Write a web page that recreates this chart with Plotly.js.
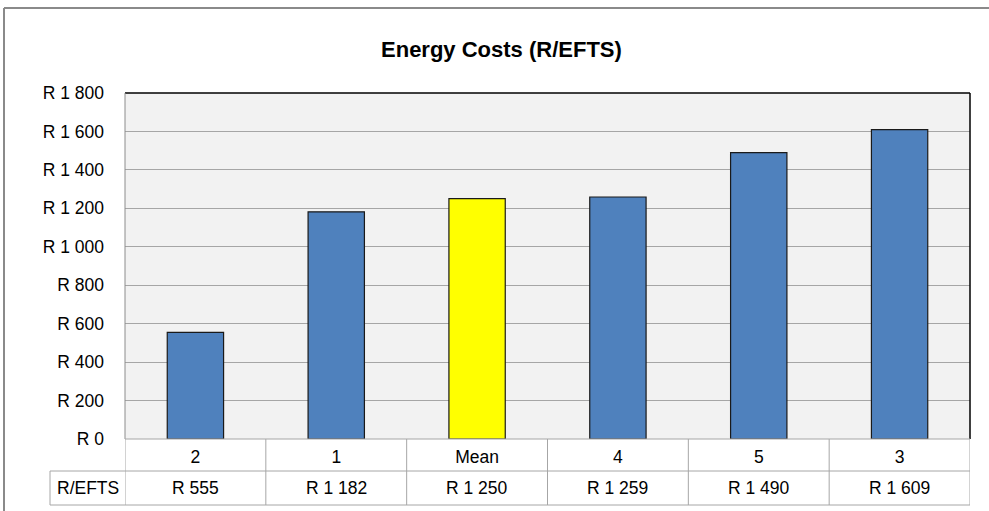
<!DOCTYPE html>
<html>
<head>
<meta charset="utf-8">
<script src="https://cdn.plot.ly/plotly-3.0.1.min.js"></script>
<style>
html,body{margin:0;padding:0;background:#fff;}
#chart{width:989px;height:511px;}
</style>
</head>
<body>
<div id="chart"></div>
<script>
// ---- data ----
var categories = ["2", "1", "Mean", "4", "5", "3"];
var values = [555, 1182, 1250, 1259, 1490, 1609];
var barColors = ["#4f81bd", "#4f81bd", "#ffff00", "#4f81bd", "#4f81bd", "#4f81bd"];
var yTicks = [0, 200, 400, 600, 800, 1000, 1200, 1400, 1600, 1800];
var rowLabel = "R/EFTS";
var chartTitle = "Energy Costs (R/EFTS)";

function fmtR(v) {
  var s = String(Math.round(v));
  var out = "";
  while (s.length > 3) { out = " " + s.slice(-3) + out; s = s.slice(0, -3); }
  return "R " + s + out;
}

var FONT = "'Liberation Sans Narrow', 'Arial Narrow', 'Liberation Sans', Arial, sans-serif";
var GRID = "#a6a6a6";
var TBL = "#a6a6a6";
var FS = 17.5;

var trace = {
  type: "bar",
  x: categories,
  y: values,
  width: 0.4,
  marker: { color: barColors, line: { color: "#1a1a1a", width: 1.2 } },
  hoverinfo: "x+y"
};

var shapes = [];
// plot frame: top & right black, left gray
shapes.push({type:"line", xref:"paper", yref:"paper", x0:0, x1:1, y0:1, y1:1, line:{color:"#000", width:1.5}, layer:"above"});
shapes.push({type:"line", xref:"paper", yref:"paper", x0:1, x1:1, y0:0, y1:1, line:{color:"#000", width:1.5}, layer:"above"});
shapes.push({type:"line", xref:"paper", yref:"paper", x0:0, x1:0, y0:0, y1:1, line:{color:"#8c8c8c", width:1}, layer:"above"});
// table horizontal lines
shapes.push({type:"line", xref:"paper", yref:"paper", x0:0, x1:1, y0:0, y1:0, line:{color:TBL, width:1}, layer:"above"});
[-32, -66].forEach(function(py){
  shapes.push({type:"line", xref:"paper", xsizemode:"pixel", xanchor:0, x0:-75, x1:0,
    yref:"paper", ysizemode:"pixel", yanchor:0, y0:py, y1:py, line:{color:TBL, width:1}});
  shapes.push({type:"line", xref:"paper", yref:"paper", ysizemode:"pixel", yanchor:0,
    x0:0, x1:1, y0:py, y1:py, line:{color:TBL, width:1}});
});
// table vertical lines
for (var i = 0; i <= categories.length; i++) {
  shapes.push({type:"line", xref:"x", x0:i-0.5, x1:i-0.5, yref:"paper", ysizemode:"pixel", yanchor:0,
    y0:0, y1:-66, line:{color:TBL, width:1}});
}
shapes.push({type:"line", xref:"paper", xsizemode:"pixel", xanchor:0, x0:-75, x1:-75,
  yref:"paper", ysizemode:"pixel", yanchor:0, y0:-32, y1:-66, line:{color:TBL, width:1}});
// outer chart frame (partially visible)
shapes.push({type:"line", xref:"paper", xsizemode:"pixel", xanchor:0, x0:-121, x1:900,
  yref:"paper", ysizemode:"pixel", yanchor:1, y0:85, y1:85, line:{color:"#8a8a8a", width:2}});
shapes.push({type:"line", xref:"paper", xsizemode:"pixel", xanchor:0, x0:-121, x1:-121,
  yref:"paper", ysizemode:"pixel", yanchor:1, y0:85, y1:-500, line:{color:"#8a8a8a", width:2}});

var annotations = [];
values.forEach(function(v, i){
  annotations.push({xref:"x", x:i, yref:"paper", y:0, yshift:-49, yanchor:"middle",
    xanchor:"center", showarrow:false, text:fmtR(v), font:{family:FONT, size:FS, color:"#000"}});
});
annotations.push({xref:"paper", x:0, xshift:-37.5, yref:"paper", y:0, yshift:-49, yanchor:"middle",
  xanchor:"center", showarrow:false, text:rowLabel, font:{family:FONT, size:FS, color:"#000"}});

var layout = {
  width: 989, height: 511,
  margin: {l:125, r:19, t:93, b:72, pad:0},
  paper_bgcolor: "#ffffff",
  plot_bgcolor: "#f2f2f2",
  showlegend: false,
  title: {text: chartTitle, font:{family:FONT, size:22, color:"#000", weight:"bold"},
    xref:"container", x:0.507, xanchor:"center", yref:"container", y:1-49/511, yanchor:"middle"},
  xaxis: {type:"category", showgrid:false, zeroline:false, showline:false, ticks:"",
    tickfont:{family:FONT, size:FS, color:"#000"}, ticklabelstandoff:5, range:[-0.5, 5.5], fixedrange:true},
  yaxis: {range:[0, 1800], tickvals:yTicks, ticktext:yTicks.map(fmtR), showgrid:true, gridcolor:GRID, gridwidth:1,
    zeroline:false, showline:false, ticks:"", ticklabelstandoff:20,
    tickfont:{family:FONT, size:FS, color:"#000"}, fixedrange:true},
  bargap: 0.6,
  shapes: shapes,
  annotations: annotations
};

Plotly.newPlot("chart", [trace], layout, {displayModeBar:false, staticPlot:true});
</script>
</body>
</html>
